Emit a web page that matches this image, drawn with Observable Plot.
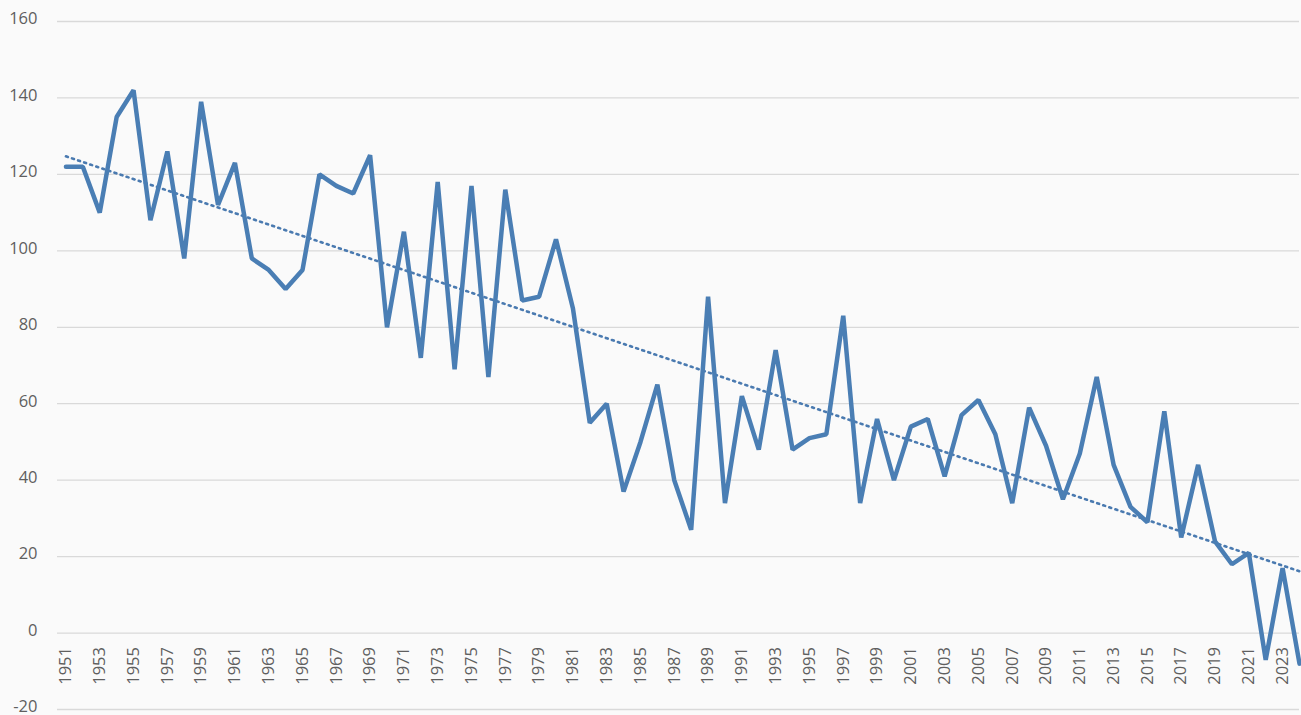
<!DOCTYPE html>
<html>
<head>
<meta charset="utf-8">
<script src="https://cdn.jsdelivr.net/npm/d3@7"></script>
<script src="https://cdn.jsdelivr.net/npm/@observablehq/plot@0.6"></script>
<style>
  html, body { margin: 0; padding: 0; background: #fafafa; overflow: hidden; }
  #chart svg { display: block; }
</style>
</head>
<body>
<div id="chart"></div>
<script>
const years = d3.range(1951, 2025);
const values = [
  122, 122, 110, 135, 142, 108, 126, 98, 139, 112,
  123, 98, 95, 90, 95, 120, 117, 115, 125, 80,
  105, 72, 118, 69, 117, 67, 116, 87, 88, 103,
  85, 55, 60, 37, 50, 65, 40, 27, 88, 34,
  62, 48, 74, 48, 51, 52, 83, 34, 56, 40,
  54, 56, 41, 57, 61, 52, 34, 59, 49, 35,
  47, 67, 44, 33, 29, 58, 25, 44, 24, 18,
  21, -7, 17, -8
];
const yTicks = [-20, 0, 20, 40, 60, 80, 100, 120, 140, 160];
const xLabels = years.filter(y => y % 2 === 1);

const data = years.map((year, i) => ({year, value: values[i]}));

const font = "'Open Sans', 'Liberation Sans', sans-serif";
const textColor = "#5f5f5f";

const chart = Plot.plot({
  width: 1301,
  height: 715,
  marginLeft: 57,
  marginRight: 2,
  marginTop: 21,
  marginBottom: 6,
  style: {background: "#fafafa", fontFamily: font, fontSize: "16px", color: textColor},
  x: {domain: [1950.5, 2024], axis: null},
  y: {domain: [-20, 160], ticks: yTicks, label: null, tickSize: 0, tickPadding: 20},
  marks: [
    Plot.ruleY(yTicks, {stroke: "#d9d9d9", strokeWidth: 1.3}),
    Plot.axisY({ticks: yTicks, tickSize: 0, tickPadding: 20, label: null, fontSize: 16.5, fill: textColor, dy: -2.5, tickFormat: d => String(d)}),
    Plot.text(xLabels, {
      x: d => d,
      y: () => 0,
      text: d => String(d),
      rotate: -90,
      textAnchor: "end",
      dy: 14,
      fontSize: 16.5,
      fill: textColor
    }),
    Plot.linearRegressionY(data, {
      x: "year", y: "value", ci: 0,
      stroke: "#4a7ab0", strokeWidth: 2.6, strokeDasharray: "2,4.4", strokeLinecap: "round"
    }),
    Plot.line(data, {x: "year", y: "value", stroke: "#4a7eb4", strokeWidth: 4.5, strokeLinejoin: "miter"})
  ]
});
document.getElementById("chart").append(chart);
</script>
</body>
</html>
